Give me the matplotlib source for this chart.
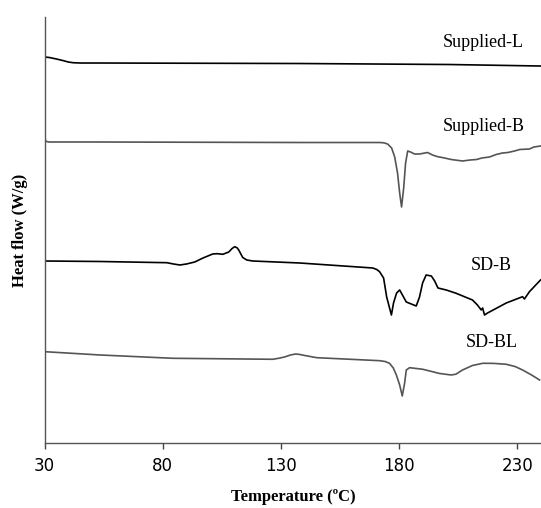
import matplotlib
matplotlib.use("Agg")
import matplotlib.pyplot as plt

# DSC curves, temperature (C) vs heat flow (arbitrary units, curves offset)
supl_l_t = [30, 32, 35, 38, 40, 42, 45, 53.4, 137.9, 201.3, 239.8]
supl_l_h = [386, 385.5, 384, 382.3, 381, 380.3, 380, 380, 379.5, 378.5, 377]

supl_b_t = [30, 30.3, 30.6, 32, 53.4, 137.9, 171.7, 173.5, 175.1, 176.8, 178.1, 179.3,
            180.2, 181, 181.9, 182.7, 183.6, 184.8, 186.5, 188.6, 192, 194.1, 196,
            199.2, 202, 206.8, 210, 212.7, 215, 218.2, 221, 223.7, 226, 228.8, 231,
            235.1, 237, 239.8]
supl_b_h = [306, 303, 301.5, 301, 301, 300.5, 300.5, 300.2, 299, 295, 286, 270,
            250, 236, 255, 280, 292, 291, 289, 289, 290.5, 288, 286.5,
            285, 283.5, 282, 283, 283.5, 285, 286, 288.5, 290, 290.5, 292, 293.5,
            294, 296, 297]

sd_b_t = [30, 53.4, 81.7, 84.5, 87.2, 90, 93.5, 97, 101.1, 103, 105.4, 107.9, 109.3,
          110.4, 111.5, 112.1, 113, 113.8, 115.5, 118, 137.9, 168.8, 170.5, 171.7,
          173.4, 174.7, 176.7, 177.6, 178.9, 180.2, 183, 187.2, 188.6, 189.9, 191.4,
          193.6, 195, 196.4, 199.9, 204.1, 211, 213.1, 214.7, 215.3, 216.1, 217.4,
          225.3, 232.2, 233, 235.1, 239.8]
sd_b_h = [182, 181.5, 180.3, 179, 178, 179, 181, 185, 189, 189.3, 188.7, 191, 194.5,
          196.3, 195, 193, 189, 185.5, 183, 182, 180, 175, 173.5, 171.3,
          165, 146, 128, 140, 150, 153, 141, 137, 146, 160, 168,
          167, 162, 155, 153, 149.7, 143, 138, 133, 135, 128, 130,
          140, 146.3, 144, 151.3, 163]

sd_bl_t = [30, 53.4, 84.2, 126.5, 129, 131.5, 134, 136.2, 138, 140, 145.1, 171.7, 174,
           175.9, 177.5, 178.8, 180.2, 181.3, 182.3, 183, 184.4, 190, 197.1, 202, 204,
           206.8, 211, 215.4, 220, 225.3, 229, 232.2, 236, 239.4]
sd_bl_h = [91.3, 88, 84.7, 83.7, 84.7, 86, 88, 89, 88.5, 87.5, 85.3, 82.3, 81.5,
           79.7, 75, 68, 58, 47, 60, 73, 75.3, 73.7, 69.5, 68, 68.8,
           73, 77.5, 79.7, 79.6, 78.7, 76.5, 73, 68, 63]

labels = ["Supplied-L", "Supplied-B", "SD-B", "SD-BL"]
label_t = [215.7, 215.7, 219, 219]
label_h = [401, 317, 177, 100]

fig = plt.figure(figsize=(5.41, 5.08), dpi=100)
ax = fig.add_axes([0.0826, 0.128, 0.9174, 0.8385])

ax.plot(supl_l_t, supl_l_h, color="black", lw=1.2)
ax.plot(supl_b_t, supl_b_h, color="#555555", lw=1.2)
ax.plot(sd_b_t, sd_b_h, color="black", lw=1.2)
ax.plot(sd_bl_t, sd_bl_h, color="#555555", lw=1.2)

for txt, t, h in zip(labels, label_t, label_h):
    ax.text(t, h, txt, ha="center", va="center", fontsize=13,
            family="Liberation Serif")

ax.set_xlim(30, 240)
ax.set_ylim(0, 426)
ax.set_xticks([30, 80, 130, 180, 230])
ax.set_yticks([])
ax.tick_params(axis="x", length=4, width=1, color="#444444", labelsize=12,
               pad=6)
for s in ["top", "right"]:
    ax.spines[s].set_visible(False)
for s in ["left", "bottom"]:
    ax.spines[s].set_color("#555555")
    ax.spines[s].set_linewidth(1)

ax.set_xlabel("Temperature (ºC)", family="Liberation Serif", fontweight="bold",
              fontsize=12, labelpad=10)
ax.set_ylabel("Heat flow (W/g)", family="Liberation Serif", fontweight="bold",
              fontsize=12, labelpad=12)

fig.savefig("out.png", dpi=100)
